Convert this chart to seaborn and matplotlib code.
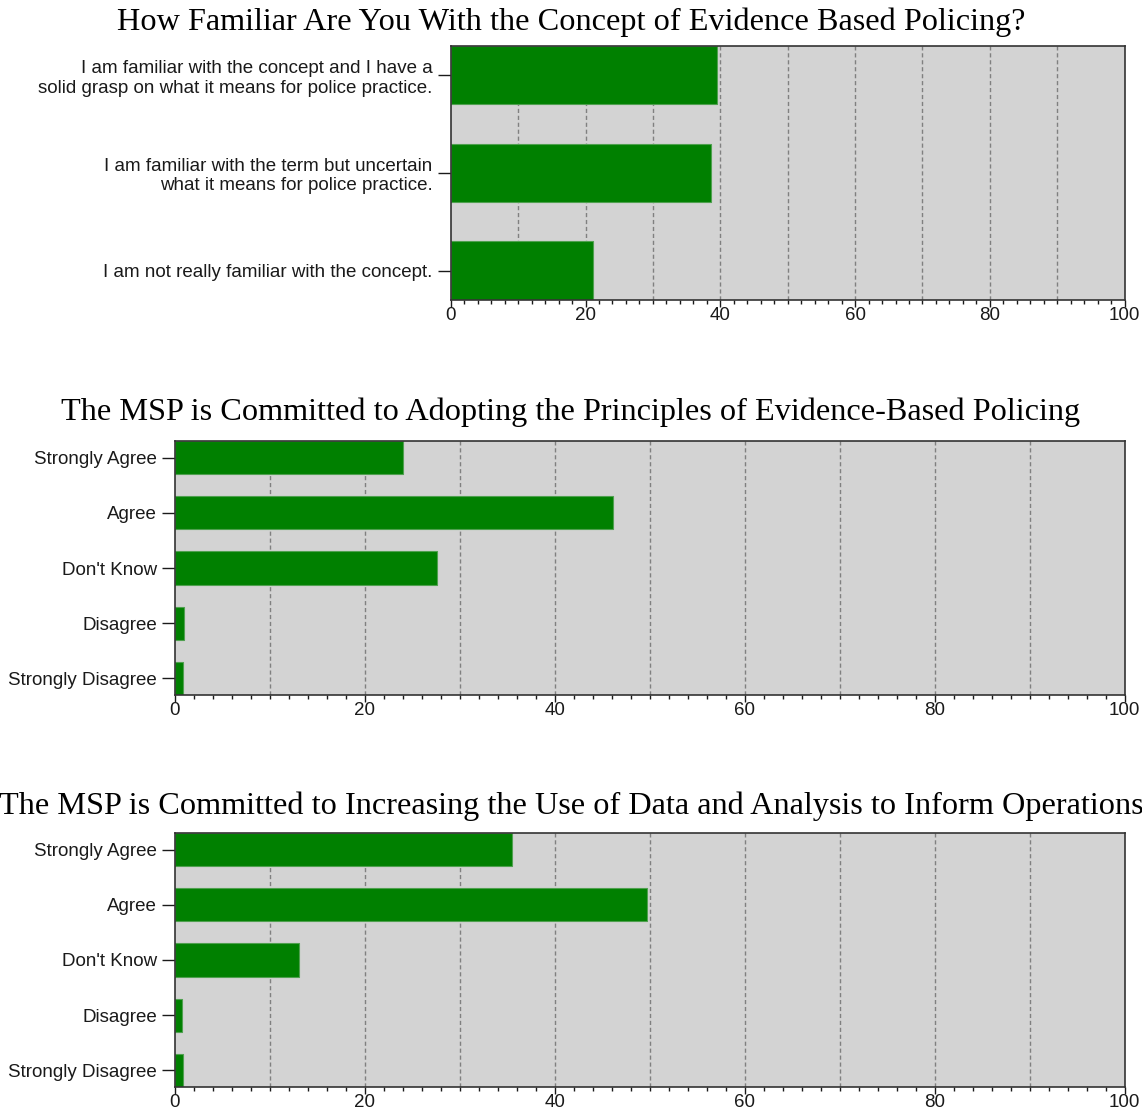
import matplotlib
matplotlib.use('Agg')
import matplotlib.pyplot as plt
import seaborn as sns
import pandas as pd
from matplotlib.ticker import MultipleLocator

# Chart data (percent of respondents)
titles = [
    'How Familiar Are You With the Concept of Evidence Based Policing?',
    'The MSP is Committed to Adopting the Principles of Evidence-Based Policing',
    'The MSP is Committed to Increasing the Use of Data and Analysis to Inform Operations',
]
familiar_labels = [
    'I am familiar with the concept and I have a\nsolid grasp on what it means for police practice.',
    'I am familiar with the term but uncertain\nwhat it means for police practice.',
    'I am not really familiar with the concept.',
]
familiar_values = [39.5, 38.6, 21.1]

agree_labels = ['Strongly Agree', 'Agree', "Don't Know", 'Disagree', 'Strongly Disagree']
adopting_values = [24.0, 46.1, 27.6, 0.9, 0.8]
data_use_values = [35.5, 49.7, 13.1, 0.7, 0.8]

sns.set_style('white')
plt.rcParams['font.family'] = ['Liberation Sans', 'DejaVu Sans']

fig = plt.figure(figsize=(11.42, 11.12), dpi=100)

# axes rectangles in figure fractions
rects = [
    [0.3947, 0.7302, 0.5901, 0.2287],
    [0.1532, 0.3750, 0.8316, 0.2284],
    [0.1532, 0.0225, 0.8316, 0.2284],
]
title_y = [0.980, 0.629, 0.275]

panels = [
    (familiar_labels, familiar_values),
    (agree_labels, adopting_values),
    (agree_labels, data_use_values),
]

for rect, ty, title, (labels, values) in zip(rects, title_y, titles, panels):
    ax = fig.add_axes(rect)
    ax.set_facecolor('#d3d3d3')
    df = pd.DataFrame({'answer': labels, 'pct': values})
    for g in range(10, 100, 10):
        ax.axvline(g, color='#808080', lw=1.0, ls=(0, (3, 2)), zorder=0)
    sns.barplot(data=df, x='pct', y='answer', ax=ax, color='#008000', saturation=1,
                width=0.6, edgecolor='#4fa04f', linewidth=0.8, orient='h', zorder=2)
    n = len(labels)
    ax.set_xlim(0, 100)
    ax.set_ylim(n - 1 + 0.3, -0.3)
    ax.set_xlabel('')
    ax.set_ylabel('')
    ax.xaxis.set_major_locator(MultipleLocator(20))
    ax.xaxis.set_minor_locator(MultipleLocator(2))
    ax.tick_params(axis='x', which='major', bottom=True, length=5, width=1, pad=0,
                   labelsize=13.5, colors='#1a1a1a')
    ax.tick_params(axis='x', which='minor', bottom=True, length=3, width=1, color='#1a1a1a')
    ax.tick_params(axis='y', which='major', left=True, length=9.4, width=1, pad=3.6,
                   labelsize=13.5, colors='#1a1a1a')
    for sp in ax.spines.values():
        sp.set_color('#333333')
        sp.set_linewidth(1.2)
    fig.text(0.5, ty, title, ha='center', va='center', fontsize=23.2,
             family=['Liberation Serif', 'DejaVu Serif'], color='black')

fig.savefig('out.png', dpi=100)
